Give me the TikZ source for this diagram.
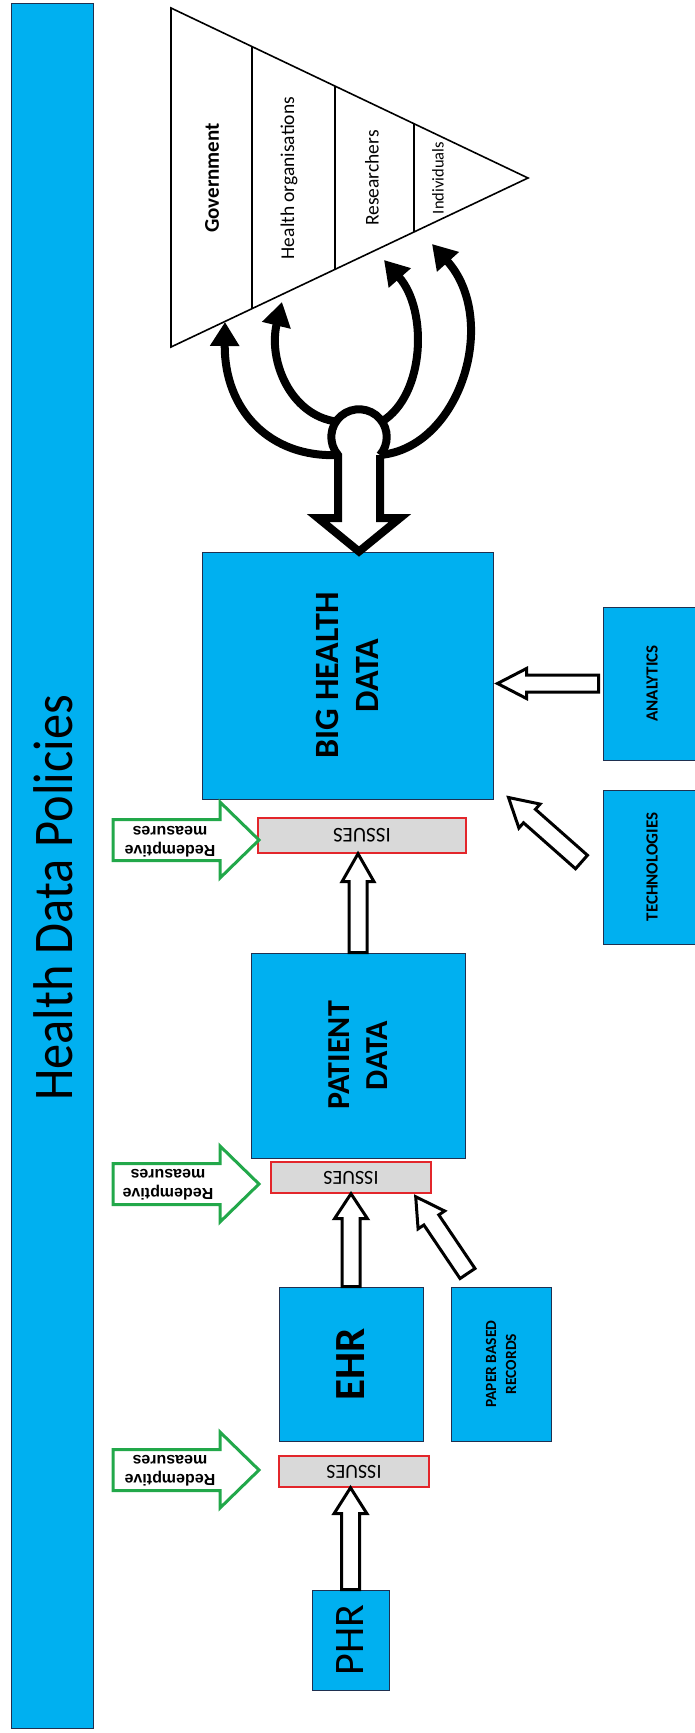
\documentclass[tikz,border=0pt]{standalone}
\usepackage{fontspec}
\setmainfont{Carlito}
\newfontfamily\arialfont{Liberation Sans}
\usetikzlibrary{arrows.meta,calc}

\definecolor{cyanfill}{HTML}{00B0F0}
\definecolor{navyline}{HTML}{1F3050}
\definecolor{issuered}{HTML}{E3262B}
\definecolor{issuegray}{HTML}{D9D9D9}
\definecolor{fixgreen}{HTML}{22A84A}

% block arrow: [style]{tail}{tip}{shaft half width}{head half width}{head length}
\newcommand{\blockarrow}[6][]{%
  \path ($(#3)!#6!(#2)$) coordinate (ba-base);
  \draw[#1] ($(#2)!#4!90:(#3)$) -- ($(ba-base)!#4!90:(#3)$) -- ($(ba-base)!#5!90:(#3)$)
    -- (#3) -- ($(ba-base)!#5!-90:(#3)$) -- ($(ba-base)!#4!-90:(#3)$) -- ($(#2)!#4!-90:(#3)$) -- cycle;}

\begin{document}
\begin{tikzpicture}[x=1pt, y=-1pt,
  bluebox/.style={draw=navyline, line width=1pt, fill=cyanfill, inner sep=0pt},
  issuebox/.style={draw=issuered, line width=1.4pt, fill=issuegray, inner sep=0pt},
  hollow/.style={draw=black, line width=3pt, fill=white, line join=miter},
  fixarrow/.style={draw=fixgreen, line width=3pt, fill=white, line join=miter},
  forkline/.style={draw=black, line width=8pt, line join=miter},
  forkhead/.style={-{Triangle[length=24pt,width=28pt]}},
  vtext/.style={rotate=90, inner sep=0pt, align=center},
  flip/.style={rotate=180, inner sep=0pt, align=center}]
\useasboundingbox (0,0) rectangle (695,1733);
\fill[white] (0,0) rectangle (695,1733);

% policy bar
\node[bluebox, minimum width=82pt, minimum height=1725pt] (bar) at (52,865.5) {};
\node[vtext, font=\fontsize{56}{56}\selectfont] (bartitle) at (53,898)
  {\scalebox{0.9}[1]{Health Data Policies}};

% stakeholder triangle
\coordinate (tA) at (171,8);
\coordinate (tB) at (171,347);
\coordinate (tC) at (528,178);
\draw[line width=1.6pt, fill=white, line join=miter] (tA) -- (tC) -- (tB) -- cycle;
\foreach \t in {0.2269,0.4594,0.6807}
  \draw[line width=1.6pt] ($(tA)!\t!(tC)$) -- ($(tB)!\t!(tC)$);
\node[vtext, font=\bfseries\fontsize{21}{21}\selectfont] (gov) at (212,178) {Government};
\node[vtext, font=\fontsize{19.5}{19.5}\selectfont] (horg) at (289,178) {Health organisations};
\node[vtext, font=\fontsize{19.5}{19.5}\selectfont] (res) at (372,178) {Researchers};
\node[vtext, font=\fontsize{16.5}{16.5}\selectfont] (ind) at (438,178) {Individuals};

% boxes
\node[bluebox, minimum width=291pt, minimum height=247pt] (big) at (347.5,675.5) {};
\node[issuebox, minimum width=208pt, minimum height=35pt] (iss1) at (362,835.5) {};
\node[bluebox, minimum width=214pt, minimum height=205pt] (patient) at (358,1055.5) {};
\node[issuebox, minimum width=160pt, minimum height=31pt] (iss2) at (351,1177.5) {};
\node[bluebox, minimum width=144pt, minimum height=154pt] (ehr) at (351,1364) {};
\node[bluebox, minimum width=100pt, minimum height=154pt] (paper) at (501,1364) {};
\node[issuebox, minimum width=150pt, minimum height=31pt] (iss3) at (354,1471.5) {};
\node[bluebox, minimum width=77pt, minimum height=100pt] (phr) at (350.5,1640) {};
\node[bluebox, minimum width=95pt, minimum height=153pt] (analytics) at (650.5,683.5) {};
\node[bluebox, minimum width=95pt, minimum height=154pt] (tech) at (650.5,867) {};

% box labels
\node[vtext, font=\bfseries\fontsize{34}{40}\selectfont] (bigtext) at (big) {BIG HEALTH\\DATA};
\node[vtext, font=\bfseries\fontsize{32}{38}\selectfont] (pattext) at (patient) {PATIENT\\DATA};
\node[vtext, font=\bfseries\fontsize{43}{43}\selectfont] (ehrtext) at (ehr) {EHR};
\node[vtext, font=\bfseries\fontsize{15.5}{20}\selectfont] (papertext) at (paper) {PAPER BASED\\RECORDS};
\node[vtext, font=\fontsize{42}{42}\selectfont] (phrtext) at (phr) {PHR};
\node[vtext, font=\bfseries\fontsize{17}{17}\selectfont] (antext) at (652,683.5) {ANALYTICS};
\node[vtext, font=\bfseries\fontsize{17}{17}\selectfont] (techtext) at (652,867) {TECHNOLOGIES};
\node[flip, font=\fontsize{21}{21}\selectfont] (iss1text) at (iss1) {ISSUES};
\node[flip, font=\fontsize{20}{20}\selectfont] (iss2text) at (iss2) {ISSUES};
\node[flip, font=\fontsize{20}{20}\selectfont] (iss3text) at (iss3) {ISSUES};

% distribution fork above the big data box
\coordinate (fc) at (359,437);
\coordinate (stL) at (338,455);
\coordinate (stR) at (380,455);
\draw[forkline, fill=white] (stR) -- (380,518) -- (400,518) -- (big.north -| fc)
  -- (318,518) -- (338,518) -- (stL) arc[start angle=220.6, end angle=-40.8, radius=27.7pt];
\coordinate (gtip) at (225,322);
\coordinate (htip) at (282,302);
\coordinate (rtip) at (384,260);
\coordinate (itip) at (432,244);
\draw[forkline, forkhead] (stL) .. controls (270,458) and (224,410) .. (gtip);
\draw[forkline, forkhead] ($(fc)+(146:27.7pt)$) .. controls (290,415) and (268,360) .. (htip);
\draw[forkline, forkhead] ($(fc)+(34:27.7pt)$) .. controls (425,395) and (428,310) .. (rtip);
\draw[forkline, forkhead] (stR) .. controls (460,448) and (500,320) .. (itip);

% hollow flow arrows
\coordinate (a1tip) at (iss1.south -| patient.north);
\blockarrow[hollow]{patient.north}{a1tip}{9pt}{16pt}{28pt}
\blockarrow[hollow]{ehr.north}{iss2.south}{9pt}{16.5pt}{25pt}
\coordinate (a3tip) at (iss3.south -| phr.north);
\blockarrow[hollow]{phr.north}{a3tip}{9pt}{16.5pt}{26pt}
\coordinate (a4tail) at ($(paper.north west)+(17,-13)$);
\coordinate (a4tip) at ($(iss2.south east)+(-16,3)$);
\blockarrow[hollow]{a4tail}{a4tip}{9pt}{16pt}{28pt}
\coordinate (a5ref) at (big.east |- analytics.west);
\coordinate (a5tail) at ($(analytics.west)+(-4,0)$);
\coordinate (a5tip) at ($(a5ref)+(4,0)$);
\blockarrow[hollow]{a5tail}{a5tip}{8.5pt}{15pt}{29pt}
\coordinate (a6tail) at ($(tech.west)+(-21,-5)$);
\coordinate (a6tip) at ($(big.south east)+(15,-2)$);
\blockarrow[hollow]{a6tail}{a6tip}{9pt}{16pt}{28pt}

% redemptive measures arrows
\coordinate (g1tail) at (113,840);  \coordinate (g1tip) at (259,840);
\coordinate (g2tail) at (113,1184); \coordinate (g2tip) at (259,1184);
\coordinate (g3tail) at (113,1470); \coordinate (g3tip) at (259,1470);
\blockarrow[fixarrow]{g1tail}{g1tip}{20.5pt}{38pt}{39pt}
\blockarrow[fixarrow]{g2tail}{g2tip}{20.5pt}{38pt}{39pt}
\blockarrow[fixarrow]{g3tail}{g3tip}{20.5pt}{38pt}{39pt}
\node[flip, font=\arialfont\bfseries\fontsize{16}{19}\selectfont] (g1text) at (170,842) {Redemptive\\measures};
\node[flip, font=\arialfont\bfseries\fontsize{16}{19}\selectfont] (g2text) at (168,1185) {Redemptive\\measures};
\node[flip, font=\arialfont\bfseries\fontsize{16}{19}\selectfont] (g3text) at (170,1471) {Redemptive\\measures};
\end{tikzpicture}
\end{document}
